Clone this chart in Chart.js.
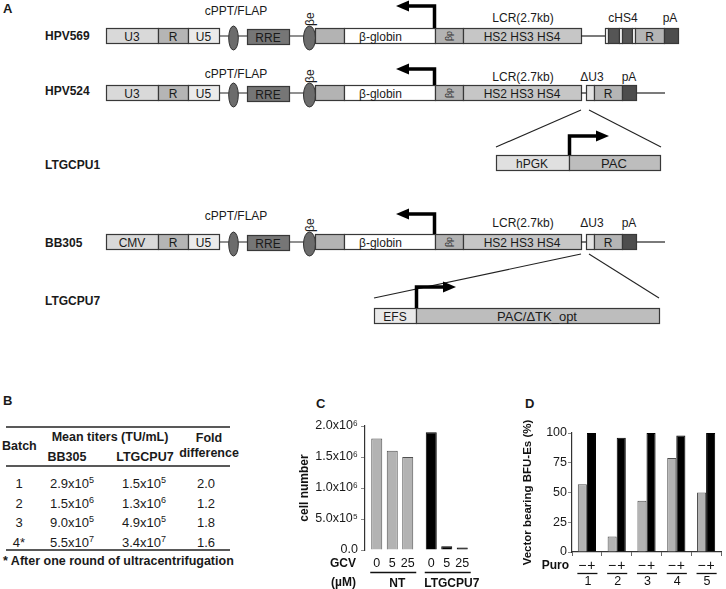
<!DOCTYPE html>
<html>
<head>
<meta charset="utf-8">
<script src="https://cdn.jsdelivr.net/npm/chart.js@4.4.0/dist/chart.umd.min.js"></script>
<style>
  body { margin: 0; width: 726px; height: 589px; background: #fff; position: relative; overflow: hidden; }
  svg text { font-family: "Liberation Sans", Arial, sans-serif; }
  #art { position: absolute; left: 0; top: 0; }
  canvas { position: absolute; }
  #chartC { left: 290px; top: 395px; }
  #chartD { left: 490px; top: 395px; }
</style>
</head>
<body>
<svg id="art" width="726" height="589"></svg>
<canvas id="chartC" width="190" height="194"></canvas>
<canvas id="chartD" width="236" height="194"></canvas>
<script>
/* ===== DATA ===== */
// panel C: cell number after GCV
const gcvDoses = ['0', '5', '25'];
const cGroups = ['NT', 'LTGCPU7'];
const cellsGcv0 = [1.8e6, 1.9e6];
const cellsGcv5 = [1.6e6, 0.06e6];
const cellsGcv25 = [1.5e6, 0.04e6];
const cTicks = [0, 5e5, 1e6, 1.5e6, 2e6];
const cTickLabels = ['0.0', '5.0x10⁵', '1.0x10⁶', '1.5x10⁶', '2.0x10⁶'];

// panel D: vector bearing BFU-Es (%)
const donors = ['1', '2', '3', '4', '5'];
const puroMinus = [57, 13, 43, 79, 50];
const puroPlus = [100, 96, 100, 98, 100];
const puroSigns = ['−', '+'];

// panel B: titers table
const tblBatch = ['1', '2', '3', '4*'];
const tblBB305 = ['2.9', '1.5', '9.0', '5.5'];
const tblBB305Exp = ['5', '6', '5', '7'];
const tblLTG = ['1.5', '1.3', '4.9', '3.4'];
const tblLTGExp = ['5', '6', '5', '7'];
const tblFold = ['2.0', '1.2', '1.8', '1.6'];

const FONT = '"Liberation Sans", Arial, sans-serif';
const GRAY = '#b3b3b3';

/* ===== SVG HELPERS ===== */
const NS = 'http://www.w3.org/2000/svg';
const svg = document.getElementById('art');

function add(tag, attrs, text, parent) {
    const e = document.createElementNS(NS, tag);
    for (const k in attrs) e.setAttribute(k, attrs[k]);
    if (text !== undefined) e.textContent = text;
    (parent || svg).appendChild(e);
    return e;
}
function box(x1, x2, y, h, fill) {
    add('rect', { x: x1 + 0.5, y: y + 0.5, width: x2 - x1, height: h, fill: fill, stroke: '#383838', 'stroke-width': 1.2 });
}
function label(x, y, s, size, anchor, weight) {
    return add('text', { x: x, y: y, 'font-size': size || 12, 'text-anchor': anchor || 'middle', 'font-weight': weight || 'normal', fill: '#1a1a1a' }, s);
}
function line(x1, y1, x2, y2, w) {
    add('line', { x1: x1, y1: y1, x2: x2, y2: y2, stroke: '#222', 'stroke-width': w || 1.2 });
}
function arrow(x, yBase, yTop, xTip, dir) {
    add('path', { d: `M${x},${yBase} L${x},${yTop} L${xTip - dir * 10},${yTop}`, fill: 'none', stroke: '#000', 'stroke-width': 3.5 });
    add('polygon', { points: `${xTip},${yTop} ${xTip - dir * 13},${yTop - 5.5} ${xTip - dir * 13},${yTop + 5.5}`, fill: '#000' });
}
function ellipse(cx, cy, rx) {
    add('ellipse', { cx: cx, cy: cy, rx: rx, ry: 12, fill: '#6c6c6c', stroke: '#333', 'stroke-width': 1 });
}

/* ===== PANEL A ===== */
function vector(name, nameY, yT, ltr, arrowTop, cpptY, lcrY) {
    const yc = yT + 8;
    label(45, nameY, name, 12, 'start', 'bold');
    line(219, yc, 315, yc);
    box(106, 158, yT, 15, '#d9d9d9'); label(132, yT + 12.5, ltr);
    box(158, 188, yT, 15, '#b5b5b5'); label(173, yT + 12.5, 'R');
    box(188, 219, yT, 15, '#ebebeb'); label(203.5, yT + 12.5, 'U5');
    ellipse(233.5, yc + 2, 4.8);
    box(247, 289, yT + 1, 15, '#767676'); label(268, yT + 13.5, 'RRE');
    ellipse(309.5, yc + 2, 6);
    box(315, 344, yT, 15, GRAY);
    box(344, 435, yT, 15, '#fff'); label(359, yT + 12.5, 'β-globin', 12, 'start');
    box(435, 463, yT, 15, GRAY);
    add('text', { transform: `translate(452,${yc}) rotate(-90)`, 'font-size': 9, 'text-anchor': 'middle', fill: '#333' }, 'βp');
    box(463, 581, yT, 15, '#c6c6c6'); label(522, yT + 12.5, 'HS2 HS3 HS4');
    arrow(434.5, yT, arrowTop, 396, -1);
    label(236, cpptY, 'cPPT/FLAP');
    add('text', { transform: `translate(313.5,${yT - 2}) rotate(-90)`, 'font-size': 12, 'text-anchor': 'start', fill: '#1a1a1a' }, 'βe');
    label(523, lcrY, 'LCR(2.7kb)');
    return yc;
}
function sinEnd(yT, yc, lcrY) {
    line(581, yc, 587, yc);
    line(636, yc, 665, yc);
    box(586, 594, yT, 15, '#e3e3e3');
    box(594, 622, yT, 15, '#b5b5b5'); label(608, yT + 12.5, 'R');
    box(622, 636, yT, 15, '#4d4d4d');
    label(592, lcrY, 'ΔU3');
    label(629, lcrY, 'pA');
}

label(3, 13, 'A', 13, 'start', 'bold');

// HPV569
let yc = vector('HPV569', 40, 28, 'U3', 6, 15, 22);
line(581, yc, 606, yc);
box(605, 608, 28, 15, '#fff'); box(608, 619, 28, 15, '#555'); box(619, 622, 28, 15, '#fff');
box(622, 632, 28, 15, '#555'); box(632, 635, 28, 15, '#fff');
box(635, 664, 28, 15, '#b5b5b5'); label(649.5, 40.5, 'R');
box(664, 678, 28, 15, '#4d4d4d');
label(623, 22, 'cHS4'); label(670, 22, 'pA');

// HPV524
yc = vector('HPV524', 95, 85, 'U3', 69, 78, 81);
sinEnd(85, yc, 81);

// LTGCPU1 insert
label(45, 169, 'LTGCPU1', 12, 'start', 'bold');
line(581, 110, 496, 147, 1.1); line(589, 110, 661, 147, 1.1);
box(496, 569, 155, 15, '#e0e0e0'); label(532, 167.5, 'hPGK');
box(569, 660, 155, 15, '#bdbdbd'); label(614, 168, 'PAC', 13);
arrow(569.5, 155, 136, 609, 1);

// BB305
yc = vector('BB305', 247, 234, 'CMV', 214, 220, 227);
sinEnd(234, yc, 227);

// LTGCPU7 insert
label(45, 305, 'LTGCPU7', 12, 'start', 'bold');
line(581, 254, 374, 298, 1.1); line(589, 254, 659, 298, 1.1);
box(374, 416, 308, 15, '#e9e9e9'); label(395, 320.5, 'EFS');
box(416, 659, 308, 15, '#bdbdbd'); label(537, 321, 'PAC/ΔTK_opt', 13);
arrow(416.5, 308, 287, 456, 1);

/* ===== PANEL B ===== */
label(3, 405, 'B', 13, 'start', 'bold');
line(6, 427, 230, 427, 1.6);
line(6, 466, 230, 466, 1.6);
line(6, 550, 230, 550, 1.6);
label(110, 441, 'Mean titers (TU/mL)', 12.5, 'middle', 'bold');
label(2, 449.5, 'Batch', 12.5, 'start', 'bold');
label(209, 442, 'Fold', 12.5, 'middle', 'bold');
label(209, 457, 'difference', 12.5, 'middle', 'bold');
label(67, 461, 'BB305', 12.5, 'middle', 'bold');
label(145, 461, 'LTGCPU7', 12.5, 'middle', 'bold');
function titer(x, y, base, exp) {
    const t = add('text', { x: x, y: y, 'font-size': 13, 'text-anchor': 'middle', fill: '#1a1a1a' });
    add('tspan', {}, base + 'x10', t);
    add('tspan', { dy: -5, 'font-size': 9 }, exp, t);
}
const rowY = [488, 507.5, 527, 546.5];
tblBatch.forEach((b, i) => {
    label(19, rowY[i], b, 13);
    titer(72, rowY[i], tblBB305[i], tblBB305Exp[i]);
    titer(144, rowY[i], tblLTG[i], tblLTGExp[i]);
    label(206, rowY[i], tblFold[i], 13);
});
label(3, 565, '* After one round of ultracentrifugation', 12.5, 'start', 'bold');

/* ===== PANEL LETTERS C, D ===== */
label(316, 408, 'C', 13, 'start', 'bold');
label(525, 408, 'D', 13, 'start', 'bold');

/* ===== CHART C ===== */
Chart.defaults.font.family = FONT;
Chart.defaults.color = '#1a1a1a';

const cLabels = {
    id: 'cLabels',
    afterDraw(chart) {
        const ctx = chart.ctx, area = chart.chartArea, xs = chart.scales.x;
        ctx.save();
        ctx.fillStyle = '#111';
        ctx.strokeStyle = '#111';
        ctx.textBaseline = 'middle';
        ctx.textAlign = 'center';
        ctx.font = '12.5px ' + FONT;
        chart.data.datasets.forEach((ds, i) => {
            chart.getDatasetMeta(i).data.forEach(bar => ctx.fillText(gcvDoses[i], bar.x, 169));
        });
        cGroups.forEach((g, j) => {
            const first = chart.getDatasetMeta(0).data[j];
            const last = chart.getDatasetMeta(gcvDoses.length - 1).data[j];
            ctx.lineWidth = 1.3;
            ctx.beginPath();
            ctx.moveTo(first.x - first.width / 2 - 1, 177.5);
            ctx.lineTo(last.x + last.width / 2 + 3, 177.5);
            ctx.stroke();
            ctx.font = 'bold 12px ' + FONT;
            ctx.fillText(g, xs.getPixelForValue(j) + 5, 189);
        });
        ctx.textAlign = 'right';
        ctx.font = 'bold 12px ' + FONT;
        ctx.fillText('GCV', area.left - 9, 169);
        ctx.fillText('(µM)', area.left - 9, 188);
        ctx.restore();
    }
};

new Chart(document.getElementById('chartC'), {
    type: 'bar',
    data: {
        labels: cGroups,
        datasets: [cellsGcv0, cellsGcv5, cellsGcv25].map((d, i) => ({
            label: gcvDoses[i],
            data: d,
            backgroundColor: [GRAY, '#000'],
            borderColor: ['#505050', '#000'],
            borderWidth: 1,
            categoryPercentage: 0.853,
            barPercentage: 0.71
        }))
    },
    options: {
        responsive: false,
        animation: false,
        layout: { padding: { left: 0, right: 6, top: 31, bottom: 39 } },
        plugins: { legend: { display: false }, tooltip: { enabled: false } },
        scales: {
            x: { display: false },
            y: {
                min: 0,
                max: 2e6,
                afterBuildTicks: ax => { ax.ticks = cTicks.map(v => ({ value: v })); },
                afterFit: ax => { ax.width = 75; },
                ticks: { callback: (v, i) => cTickLabels[i], font: { size: 12.5 }, color: '#1a1a1a', padding: 3 },
                grid: { drawOnChartArea: false, tickLength: 4, color: '#8a8a8a' },
                border: { color: '#333', width: 1.2 },
                title: { display: true, text: 'cell number', font: { size: 12, weight: 'bold' }, color: '#111', padding: { top: 7 } }
            }
        }
    },
    plugins: [cLabels]
});

/* ===== CHART D ===== */
const dLabels = {
    id: 'dLabels',
    afterDraw(chart) {
        const ctx = chart.ctx, area = chart.chartArea, xs = chart.scales.x;
        ctx.save();
        ctx.fillStyle = '#111';
        ctx.strokeStyle = '#111';
        ctx.textBaseline = 'middle';
        ctx.textAlign = 'center';
        donors.forEach((d, j) => {
            const minus = chart.getDatasetMeta(0).data[j];
            const plus = chart.getDatasetMeta(1).data[j];
            ctx.font = '14px ' + FONT;
            ctx.fillText(puroSigns[0], minus.x, 171);
            ctx.fillText(puroSigns[1], plus.x, 171);
            ctx.lineWidth = 1.3;
            ctx.beginPath();
            ctx.moveTo(minus.x - 5, 178.5);
            ctx.lineTo(plus.x + 6, 178.5);
            ctx.stroke();
            ctx.font = '12.5px ' + FONT;
            ctx.fillText(d, xs.getPixelForValue(j) + 1, 187);
        });
        ctx.textAlign = 'right';
        ctx.font = 'bold 12px ' + FONT;
        ctx.fillText('Puro', area.left - 3, 171);
        ctx.restore();
    }
};

new Chart(document.getElementById('chartD'), {
    type: 'bar',
    data: {
        labels: donors,
        datasets: [
            { label: '−', data: puroMinus, backgroundColor: GRAY, borderColor: '#505050', borderWidth: 1 },
            { label: '+', data: puroPlus, backgroundColor: '#000', borderColor: '#000', borderWidth: 1 }
        ]
    },
    options: {
        responsive: false,
        animation: false,
        datasets: { bar: { categoryPercentage: 0.61, barPercentage: 1.0 } },
        layout: { padding: { left: 23, right: 5, top: 38, bottom: 33 } },
        plugins: { legend: { display: false }, tooltip: { enabled: false } },
        scales: {
            x: {
                ticks: { display: false },
                afterFit: ax => { ax.height = 4; },
                grid: { offset: true, drawOnChartArea: false, tickLength: 4, color: '#666' },
                border: { color: '#333', width: 1.2 }
            },
            y: {
                min: 0,
                max: 100,
                ticks: { stepSize: 25, font: { size: 12.5 }, color: '#1a1a1a', padding: 1 },
                afterFit: ax => { ax.width = 59; },
                grid: { drawOnChartArea: false, tickLength: 4, color: '#8a8a8a' },
                border: { color: '#333', width: 1.2 },
                title: { display: true, text: 'Vector bearing BFU-Es (%)', font: { size: 11.5, weight: 'bold' }, color: '#111', padding: { top: 8 } }
            }
        }
    },
    plugins: [dLabels]
});
</script>
</body>
</html>
